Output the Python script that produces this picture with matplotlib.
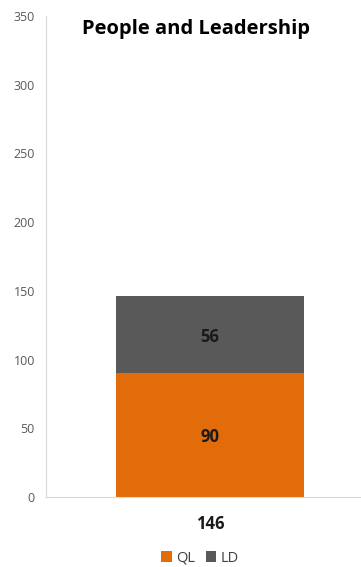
import matplotlib.pyplot as plt

plt.rcParams['font.family'] = ['Open Sans', 'DejaVu Sans']

categorias = ['146']
ql = [90]
ld = [56]

fig = plt.figure(figsize=(3.61, 5.67), dpi=100)
ax = fig.add_axes([46 / 361, 1 - 497 / 567, 315 / 361, (497 - 16) / 567])

x = [0]
b1 = ax.bar(x, ql, width=0.597, color='#E26B0A', label='QL')
b2 = ax.bar(x, ld, width=0.597, bottom=ql, color='#595959', label='LD')

for barras, vals, base in [(b1, ql, [0]), (b2, ld, ql)]:
    for rect, v, b in zip(barras, vals, base):
        ax.text(rect.get_x() + rect.get_width() / 2, b + v / 2 - 1.5, str(v),
                ha='center', va='center', fontsize=12, fontweight='bold', color='#1a1a1a')

ax.set_xlim(-0.52, 0.48)
ax.set_ylim(0, 350)
ax.set_yticks(range(0, 351, 50))
ax.set_xticks(x)
ax.set_xticklabels(categorias, fontsize=12, fontweight='bold', color='#1a1a1a')
ax.tick_params(axis='both', length=0)
ax.tick_params(axis='y', labelsize=9, labelcolor='#595959', pad=8)
ax.tick_params(axis='x', pad=13)

for lado in ['top', 'right']:
    ax.spines[lado].set_visible(False)
ax.spines['left'].set_color('#d9d9d9')
ax.spines['bottom'].set_color('#d9d9d9')

fig.text(196 / 361, 1 - 29 / 567, 'People and Leadership', ha='center', va='center',
         fontsize=14.5, fontweight='bold', color='black')

fig.legend(loc='center', bbox_to_anchor=(200 / 361, 1 - 558 / 567), ncol=2, frameon=False,
           fontsize=10.5, handlelength=0.75, handleheight=0.75, handletextpad=0.3, columnspacing=0.7,
           labelcolor='#404040')

fig.savefig('out.png', dpi=100)
